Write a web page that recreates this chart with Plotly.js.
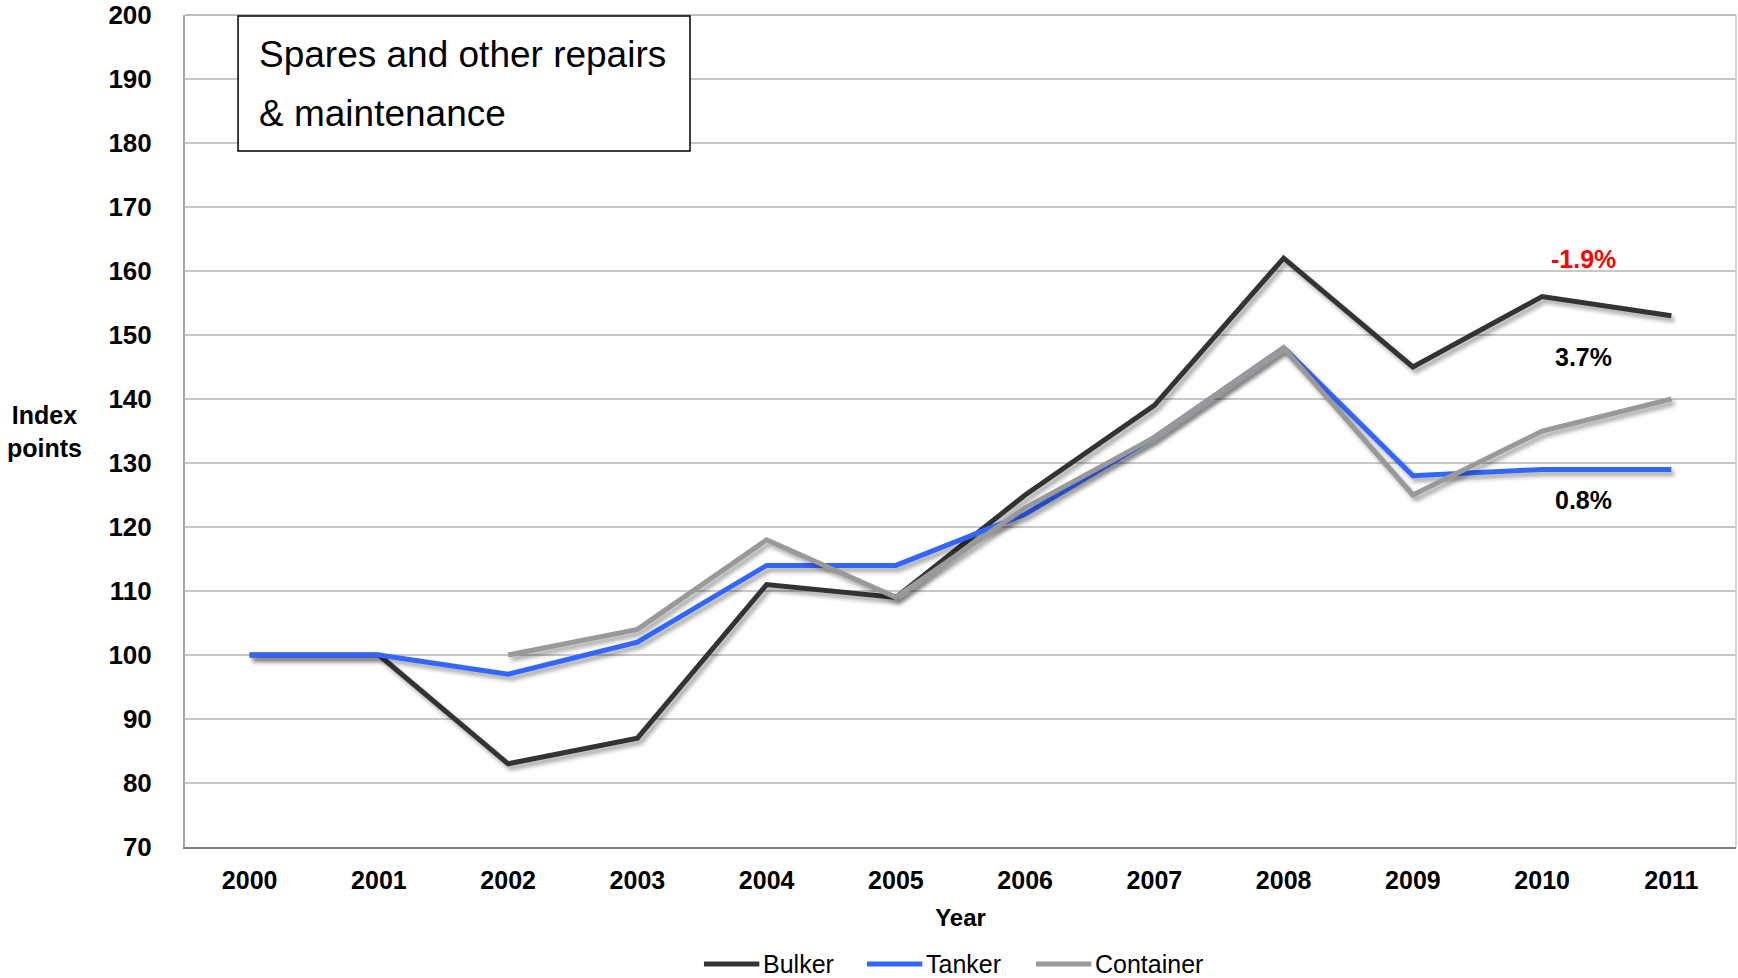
<!DOCTYPE html>
<html>
<head>
<meta charset="utf-8">
<script src="https://cdn.plot.ly/plotly-3.0.1.min.js"></script>
<style>
html, body { margin: 0; padding: 0; background: #fff; }
#chart { width: 1738px; height: 978px; }
.scatterlayer .trace path.js-line { filter: drop-shadow(3px 4px 2px rgba(0,0,0,0.35)); }
</style>
</head>
<body>
<div id="chart"></div>
<script>
const years = [2000, 2001, 2002, 2003, 2004, 2005, 2006, 2007, 2008, 2009, 2010, 2011];
const bulker = [100, 100, 83, 87, 111, 109, 125, 139, 162, 145, 156, 153];
const tanker = [100, 100, 97, 102, 114, 114, 122, 134, 148, 128, 129, 129];
const container = [null, null, 100, 104, 118, 109, 123, 134, 148, 125, 135, 140];
const yTicks = [70, 80, 90, 100, 110, 120, 130, 140, 150, 160, 170, 180, 190, 200];
const seriesNames = ['Bulker', 'Tanker', 'Container'];
const seriesColors = ['#333333', '#3366ff', '#999999'];
const changeLabels = ['-1.9%', '3.7%', '0.8%'];
const changeY = [161.8, 146.5, 124.2];
const changeColors = ['#ff0000', '#000000', '#000000'];

const F = 'Liberation Sans, Arial, Helvetica, sans-serif';
const seriesData = [bulker, tanker, container];

const traces = seriesData.map((d, i) => ({
  x: years, y: d, name: seriesNames[i], mode: 'lines', showlegend: false,
  line: {color: seriesColors[i], width: 5}
}));

const annotations = changeLabels.map((t, i) => ({
  x: 2010.32, y: changeY[i], xref: 'x', yref: 'y', text: t, showarrow: false,
  font: {family: F, size: 25, color: changeColors[i], weight: 'bold'}
}));

annotations.push({
  xref: 'paper', yref: 'paper', x: 0.0465, y: 0.952, xanchor: 'left', yanchor: 'middle',
  text: 'Spares and other repairs', showarrow: false, font: {family: F, size: 37, color: '#000'}
});
annotations.push({
  xref: 'paper', yref: 'paper', x: 0.0465, y: 0.882, xanchor: 'left', yanchor: 'middle',
  text: '&amp; maintenance', showarrow: false, font: {family: F, size: 37, color: '#000'}
});
annotations.push({
  xref: 'paper', yref: 'paper', x: -0.0905, y: 0.5, xanchor: 'center', yanchor: 'middle',
  text: '<b>Index</b><br><b>points</b>', showarrow: false, font: {family: F, size: 25, color: '#000'}
});

// custom legend (paper coordinates)
const legX = [0.3346, 0.4397, 0.5487];
const legLen = 0.0357;
const legY = -0.1406;
const shapes = [
  {type: 'line', xref: 'paper', yref: 'paper', x0: 0, x1: 1, y0: 1, y1: 1, line: {color: '#a6a6a6', width: 1.5}},
  {type: 'line', xref: 'paper', yref: 'paper', x0: 1, x1: 1, y0: 0, y1: 1, line: {color: '#c8c8c8', width: 1.5}},
  {type: 'rect', xref: 'paper', yref: 'paper', x0: 0.0342, x1: 0.3256, y0: 0.8365, y1: 0.9988,
   line: {color: '#000', width: 1.5}, fillcolor: '#ffffff', layer: 'above'}
];
seriesNames.forEach((n, i) => {
  shapes.push({type: 'line', xref: 'paper', yref: 'paper', x0: legX[i], x1: legX[i] + legLen,
    y0: legY, y1: legY, line: {color: seriesColors[i], width: 5}});
  annotations.push({xref: 'paper', yref: 'paper', x: legX[i] + legLen + 0.0012, y: legY,
    xanchor: 'left', yanchor: 'middle', text: n, showarrow: false,
    font: {family: F, size: 25, color: '#000'}});
});

const layout = {
  width: 1738, height: 978,
  margin: {l: 185, r: 2, t: 15, b: 131},
  paper_bgcolor: '#ffffff', plot_bgcolor: '#ffffff',
  showlegend: false,
  xaxis: {
    range: [1999.5, 2011.5], tickmode: 'array', tickvals: years, ticktext: years.map(String),
    showgrid: false, zeroline: false, showline: true, linecolor: '#808080', linewidth: 2,
    mirror: false, ticks: '', ticklabelstandoff: 10, automargin: false,
    tickfont: {family: F, size: 25, color: '#000', weight: 'bold'},
    title: {text: '<b>Year</b>', font: {family: F, size: 24, color: '#000'}, standoff: 16}
  },
  yaxis: {
    range: [70, 200], tickmode: 'array', tickvals: yTicks, ticktext: yTicks.map(String),
    showgrid: true, gridcolor: '#c8c8c8', gridwidth: 1.5, zeroline: false, automargin: false,
    showline: true, linecolor: '#a6a6a6', linewidth: 2, ticks: '', ticklabelstandoff: 26,
    tickfont: {family: F, size: 26, color: '#000', weight: 'bold'}
  },
  shapes: shapes,
  annotations: annotations
};

Plotly.newPlot('chart', traces, layout, {displayModeBar: false, staticPlot: true});
</script>
</body>
</html>
